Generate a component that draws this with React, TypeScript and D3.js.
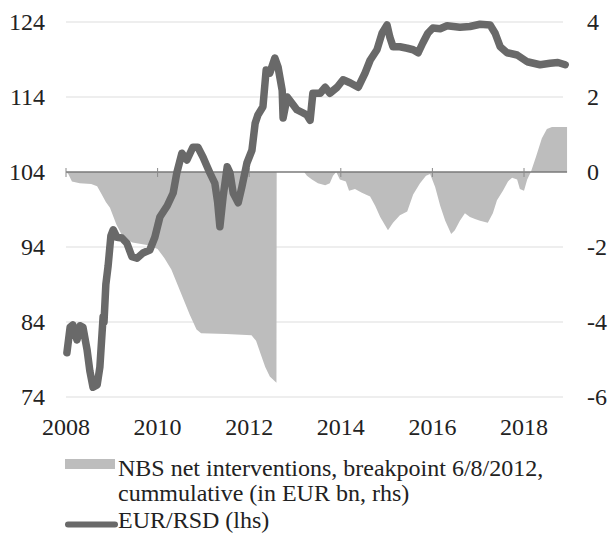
import React from "react";
import * as d3 from "d3";

// EUR/RSD (lhs) — decimal years and values
const lineYears = [
  2008.02, 2008.09, 2008.15, 2008.24, 2008.31, 2008.37, 2008.46, 2008.52, 2008.59, 2008.68,
  2008.74, 2008.81, 2008.83, 2008.87, 2008.92, 2008.98, 2009.03, 2009.11, 2009.22, 2009.33,
  2009.44, 2009.55, 2009.68, 2009.83, 2009.94, 2010.05, 2010.21, 2010.34, 2010.42, 2010.53,
  2010.64, 2010.77, 2010.88, 2010.99, 2011.14, 2011.25, 2011.31, 2011.36, 2011.43, 2011.52,
  2011.58, 2011.65, 2011.76, 2011.84, 2011.95, 2012.06, 2012.13, 2012.19, 2012.3, 2012.37,
  2012.45, 2012.56, 2012.63, 2012.72, 2012.74, 2012.83, 2012.93, 2013.04, 2013.17, 2013.26,
  2013.33, 2013.39, 2013.55, 2013.66, 2013.76, 2013.92, 2014.05, 2014.2, 2014.38, 2014.53,
  2014.64, 2014.79, 2014.9, 2015.01, 2015.07, 2015.14, 2015.29, 2015.45, 2015.58, 2015.69,
  2015.79, 2015.9, 2016.01, 2016.17, 2016.32, 2016.6, 2016.82, 2017.04, 2017.26, 2017.37,
  2017.48, 2017.63, 2017.85, 2018.07, 2018.35, 2018.57, 2018.74, 2018.9,
];
const lineValues = [
  79.9, 83.3, 83.6, 81.6, 83.5, 83.3, 80.3, 77.5, 75.3, 75.6,
  78.0, 84.7, 84.0, 89.0, 91.5, 95.5, 96.3, 95.3, 95.2, 94.5,
  92.7, 92.5, 93.2, 93.6, 95.3, 98.0, 99.5, 101.2, 103.9, 106.5,
  105.6, 107.3, 107.3, 106.0, 103.9, 102.5, 100.0, 96.7, 100.7, 104.7,
  103.9, 101.2, 99.9, 102.0, 105.2, 106.9, 110.5, 111.6, 112.7, 117.6,
  117.2, 119.2, 118.0, 114.9, 111.2, 114.0, 113.2, 112.3, 111.9, 111.6,
  110.9, 114.5, 114.5, 115.3, 114.5, 115.3, 116.3, 115.9, 115.3, 117.2,
  118.9, 120.3, 122.5, 123.6, 122.0, 120.7, 120.7, 120.5, 120.3, 119.9,
  121.2, 122.5, 123.2, 123.1, 123.5, 123.3, 123.4, 123.7, 123.6, 122.5,
  120.7, 119.9, 119.6, 118.7, 118.3, 118.5, 118.6, 118.3,
];

// NBS net interventions, cumulative (EUR bn, rhs)
const areaYears = [
  2008.0, 2008.05, 2008.13, 2008.3, 2008.55, 2008.68, 2008.76, 2008.87, 2008.96, 2009.1,
  2009.25, 2009.45, 2009.8, 2010.0, 2010.15, 2010.3, 2010.5, 2010.7, 2010.85, 2010.95,
  2011.5, 2012.05, 2012.15, 2012.25, 2012.35, 2012.45, 2012.595, 2012.6,
  2013.2, 2013.26, 2013.37, 2013.5, 2013.66, 2013.76, 2013.83, 2013.9, 2013.98, 2014.11,
  2014.18, 2014.31, 2014.46, 2014.64, 2014.75, 2014.86, 2015.03, 2015.14, 2015.29, 2015.45,
  2015.58, 2015.73, 2015.86, 2015.95, 2016.06, 2016.17, 2016.28, 2016.41, 2016.49, 2016.6,
  2016.71, 2016.82, 2016.93, 2017.04, 2017.21, 2017.32, 2017.41, 2017.54, 2017.65, 2017.74,
  2017.85, 2017.91, 2018.0, 2018.07, 2018.15, 2018.26, 2018.39, 2018.5, 2018.61, 2018.94,
];
const areaValues = [
  0, -0.05, -0.25, -0.3, -0.32, -0.38, -0.55, -0.8, -0.95, -1.4,
  -1.75, -1.88, -1.95, -2.05, -2.3, -2.6, -3.2, -3.8, -4.2, -4.3,
  -4.32, -4.35, -4.5, -4.85, -5.2, -5.45, -5.62, 0,
  0, -0.1, -0.2, -0.3, -0.35, -0.3, -0.1, 0, -0.2, -0.25,
  -0.5, -0.45, -0.55, -0.65, -0.9, -1.2, -1.55, -1.35, -1.15, -1.05,
  -0.6, -0.3, -0.1, -0.05, -0.4, -0.9, -1.3, -1.65, -1.55, -1.3,
  -1.1, -1.2, -1.25, -1.3, -1.35, -1.1, -0.75, -0.5, -0.25, -0.15,
  -0.2, -0.45, -0.5, -0.2, 0, 0.4, 0.9, 1.15, 1.2, 1.2,
];

const xTickYears = [2008, 2010, 2012, 2014, 2016, 2018];
const xTickLabels = ["2008", "2010", "2012", "2014", "2016", "2018"];
const leftTicks = [124, 114, 104, 94, 84, 74];
const rightTicks = [4, 2, 0, -2, -4, -6];
const legendLabels = [
  "NBS net interventions, breakpoint 6/8/2012,",
  "cummulative (in EUR bn, rhs)",
  "EUR/RSD (lhs)",
];

const FONT = "Liberation Serif, DejaVu Serif, serif";
const LINE_COLOR = "#696969";
const AREA_COLOR = "#bdbdbd";
const TXT: React.CSSProperties = { fontFamily: FONT, fontSize: "24px" };

export default function App() {
  const W = 611;
  const H = 534;
  const x = d3.scaleLinear().domain([2008, 2019]).range([66, 569.8]);
  const yL = d3.scaleLinear().domain([74, 124]).range([397, 22]);
  const yR = d3.scaleLinear().domain([-6, 4]).range([397, 22]);

  const lineData = lineYears.map((t, i) => [t, lineValues[i]] as [number, number]);
  const areaData = areaYears.map((t, i) => [t, areaValues[i]] as [number, number]);

  const linePath = d3
    .line<[number, number]>()
    .x((d) => x(d[0]))
    .y((d) => yL(d[1]))(lineData) as string;
  const areaPath = d3
    .area<[number, number]>()
    .x((d) => x(d[0]))
    .y0(yR(0))
    .y1((d) => yR(d[1]))(areaData) as string;

  const x0 = x(2008);
  const x1 = x(2018.94);

  return (
    <svg
      width={W}
      height={H}
      style={{ position: "absolute", left: 0, top: 0, background: "#fff" }}
    >
      {leftTicks.map((t) =>
        t === 104 ? null : (
          <line key={"g" + t} x1={x0} x2={563} y1={yL(t)} y2={yL(t)} stroke="#eeeeee" strokeWidth={2} />
        )
      )}
      <path d={areaPath} fill={AREA_COLOR} />
      <line x1={x0} x2={x1} y1={yR(0)} y2={yR(0)} stroke="#7a7a7a" strokeWidth={1.5} />
      {xTickYears.map((t) => (
        <line key={"t" + t} x1={x(t)} x2={x(t)} y1={yR(0) - 4} y2={yR(0) + 5} stroke="#8a8a8a" strokeWidth={1} />
      ))}
      <path
        d={linePath}
        fill="none"
        stroke={LINE_COLOR}
        strokeWidth={7.5}
        strokeLinejoin="round"
        strokeLinecap="round"
      />
      {leftTicks.map((t) => (
        <text key={"l" + t} x={45} y={yL(t) + 8} textAnchor="end" style={TXT} fill="#222">
          {t}
        </text>
      ))}
      {rightTicks.map((t) => (
        <text key={"r" + t} x={587} y={yR(t) + 8} textAnchor="start" style={TXT} fill="#222">
          {t}
        </text>
      ))}
      {xTickYears.map((t, i) => (
        <text key={"x" + t} x={x(t)} y={435} textAnchor="middle" style={TXT} fill="#222">
          {xTickLabels[i]}
        </text>
      ))}
      <rect x={65} y={459} width={50} height={10} fill={AREA_COLOR} />
      <text x={118} y={476} style={TXT} fill="#222">{legendLabels[0]}</text>
      <text x={118} y={501} style={TXT} fill="#222">{legendLabels[1]}</text>
      <line x1={68} x2={115} y1={524.5} y2={524.5} stroke={LINE_COLOR} strokeWidth={6} strokeLinecap="round" />
      <text x={118} y={528} style={TXT} fill="#222">{legendLabels[2]}</text>
    </svg>
  );
}
